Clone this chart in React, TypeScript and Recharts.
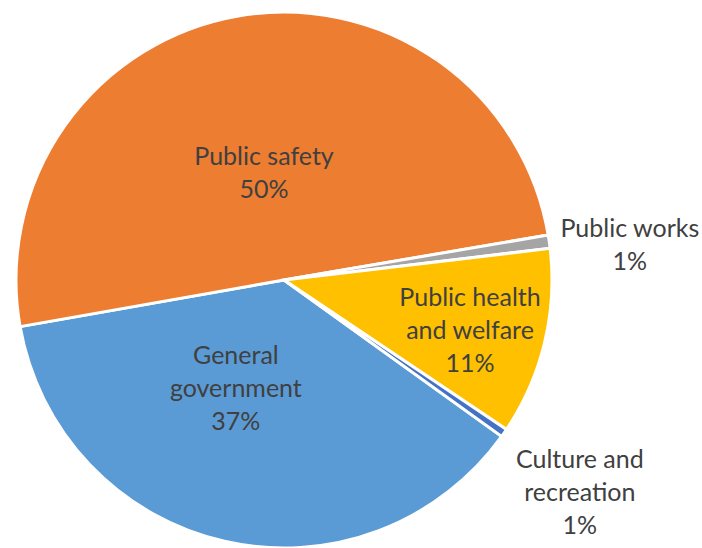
import React from "react";
import { PieChart, Pie, Cell } from "recharts";

// ---- data ----
const categories = [
  "General\ngovernment",
  "Public safety",
  "Public works",
  "Public health\nand welfare",
  "Culture and\nrecreation",
];
const values = [37.3, 50.1, 0.8, 11.3, 0.5];

// ---- styling ----
const colors = ["#5B9BD5", "#ED7D31", "#A5A5A5", "#FFC000", "#4472C4"];
// label placement: radius as a fraction of outer radius, angle in degrees
const labelRadius = [0.438, 0.413, 1.298, 0.718, 1.356];
const labelAngle = [-114.2, 100.4, 6.1, -14.8, -35.5];

const FONT = "Lato, 'Open Sans', sans-serif";
const FONT_SIZE = 25;
const LINE_H = 33;

const data = categories.map((name, i) => ({ name, value: values[i] }));

const RAD = Math.PI / 180;

const renderLabel = (props: any) => {
  const { cx, cy, outerRadius, index, percent } = props;
  const r = outerRadius * labelRadius[index];
  const a = labelAngle[index] * RAD;
  const x = cx + r * Math.cos(a);
  const y = cy - r * Math.sin(a);
  const lines = [...categories[index].split("\n"), `${Math.round(percent * 100 + 1e-6)}%`];
  const startY = y - ((lines.length - 1) * LINE_H) / 2;
  return (
    <text
      x={x}
      y={startY}
      textAnchor="middle"
      fill="#404040"
      fontFamily={FONT}
      fontSize={FONT_SIZE}
    >
      {lines.map((l, i) => (
        <tspan key={i} x={x} y={startY + i * LINE_H} dominantBaseline="central">
          {l}
        </tspan>
      ))}
    </text>
  );
};

export default function App() {
  return (
    <div style={{ position: "absolute", left: 0, top: 0, width: 702, height: 548, background: "#fff" }}>
      <PieChart width={702} height={548} margin={{ top: 0, right: 0, bottom: 0, left: 0 }}>
        <Pie
          data={data}
          dataKey="value"
          nameKey="name"
          cx={284}
          cy={280}
          outerRadius={268}
          startAngle={-35.7}
          endAngle={-395.7}
          stroke="#ffffff"
          strokeWidth={3}
          label={renderLabel}
          labelLine={false}
          isAnimationActive={false}
        >
          {data.map((_, i) => (
            <Cell key={i} fill={colors[i]} />
          ))}
        </Pie>
      </PieChart>
    </div>
  );
}
